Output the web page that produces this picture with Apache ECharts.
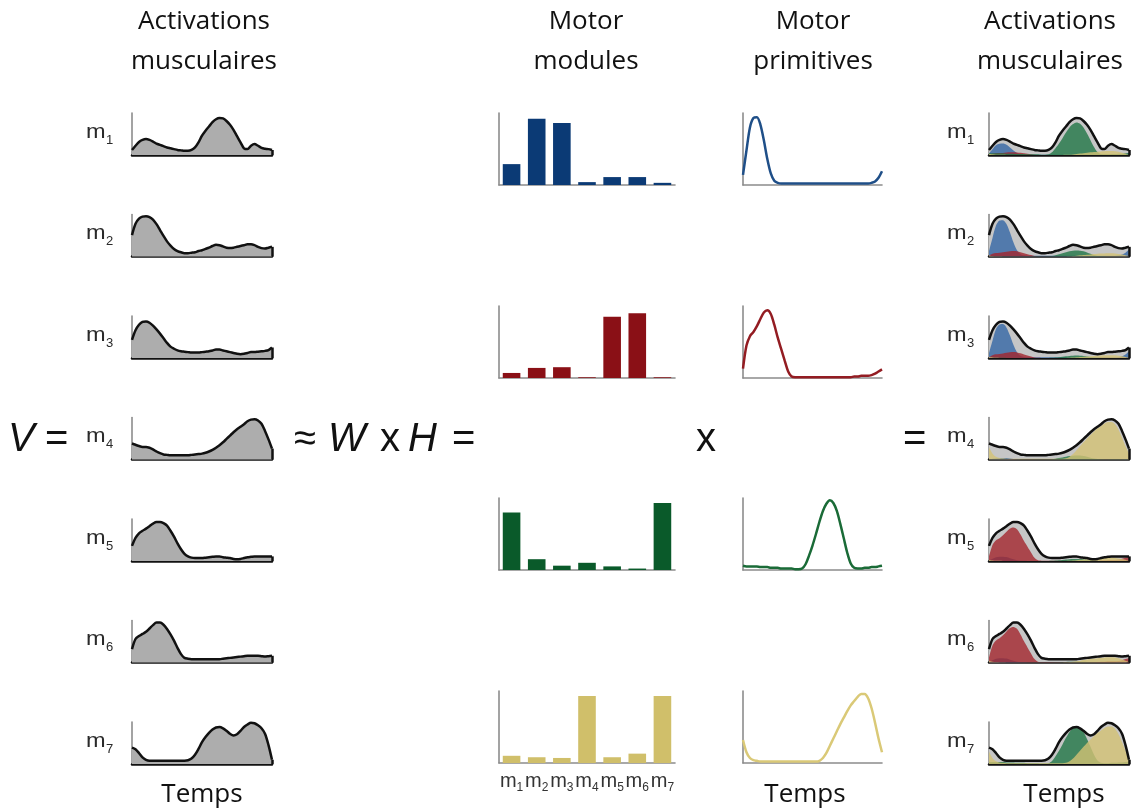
<!DOCTYPE html>
<html>
<head>
<meta charset="utf-8">
<script src="https://cdn.jsdelivr.net/npm/echarts@6/dist/echarts.min.js"></script>
<style>html,body{margin:0;padding:0;background:#fff}#c{width:1131px;height:809px}</style>
</head>
<body>
<div id="c"></div>
<script>
// ---------- DATA ----------
const TIME = [0,2.5,5,7.5,10,12.5,15,17.5,20,22.5,25,27.5,30,32.5,35,37.5,40,42.5,45,47.5,50,
              52.5,55,57.5,60,62.5,65,67.5,70,72.5,75,77.5,80,82.5,85,87.5,90,92.5,95,97.5,100];
const MUSCLES = ['m1','m2','m3','m4','m5','m6','m7'];
// muscle activations (V), normalised
const V1 = [0.12,0.22,0.31,0.36,0.38,0.36,0.32,0.27,0.24,0.21,0.18,0.16,0.14,0.12,0.11,0.10,0.10,0.12,0.18,0.30,0.46,
            0.58,0.68,0.78,0.85,0.88,0.87,0.81,0.72,0.60,0.45,0.30,0.16,0.14,0.22,0.26,0.22,0.17,0.15,0.14,0.12];
const V2 = [0.51,0.78,0.90,0.95,0.96,0.94,0.88,0.77,0.63,0.49,0.36,0.26,0.18,0.13,0.10,0.08,0.08,0.09,0.10,0.13,0.15,
            0.18,0.21,0.25,0.28,0.27,0.24,0.21,0.20,0.21,0.23,0.25,0.27,0.29,0.29,0.27,0.23,0.20,0.19,0.21,0.23];
const V3 = [0.43,0.66,0.79,0.86,0.87,0.84,0.77,0.68,0.58,0.47,0.36,0.27,0.22,0.18,0.16,0.15,0.14,0.13,0.13,0.13,0.14,
            0.15,0.16,0.18,0.20,0.20,0.18,0.16,0.14,0.12,0.10,0.09,0.10,0.12,0.14,0.14,0.15,0.16,0.17,0.19,0.25];
const V4 = [0.38,0.35,0.32,0.30,0.30,0.28,0.24,0.19,0.15,0.12,0.11,0.10,0.10,0.10,0.10,0.10,0.10,0.11,0.12,0.13,0.14,
            0.16,0.19,0.23,0.28,0.34,0.41,0.49,0.57,0.65,0.72,0.78,0.84,0.91,0.95,0.96,0.93,0.85,0.68,0.48,0.26];
const V5 = [0.36,0.55,0.66,0.72,0.77,0.83,0.89,0.93,0.93,0.90,0.84,0.72,0.58,0.42,0.28,0.17,0.11,0.08,0.07,0.07,0.07,
            0.08,0.09,0.10,0.11,0.11,0.09,0.08,0.07,0.05,0.04,0.05,0.07,0.09,0.10,0.11,0.11,0.11,0.11,0.11,0.11];
const V6 = [0.32,0.56,0.63,0.68,0.73,0.81,0.89,0.95,0.95,0.90,0.80,0.67,0.52,0.35,0.20,0.11,0.09,0.08,0.08,0.08,0.08,
            0.08,0.08,0.08,0.08,0.08,0.09,0.10,0.11,0.12,0.13,0.14,0.15,0.16,0.16,0.16,0.16,0.15,0.14,0.15,0.16];
const V7 = [0.39,0.35,0.26,0.16,0.10,0.08,0.08,0.08,0.08,0.08,0.08,0.08,0.08,0.08,0.08,0.08,0.09,0.13,0.22,0.36,0.52,
            0.64,0.74,0.82,0.87,0.88,0.85,0.79,0.72,0.68,0.71,0.79,0.88,0.94,0.98,0.97,0.92,0.85,0.72,0.45,0.10];
// motor modules (W), weight of each muscle m1..m7
const W_BLUE   = [0.29,0.92,0.86,0.04,0.11,0.11,0.03];
const W_RED    = [0.07,0.14,0.15,0.01,0.85,0.90,0.01];
const W_GREEN  = [0.80,0.15,0.06,0.10,0.05,0.02,0.93];
const W_YELLOW = [0.10,0.08,0.07,0.93,0.08,0.13,0.93];
// motor primitives (H)
const H_BLUE   = [0.14,0.48,0.80,0.93,0.94,0.84,0.62,0.36,0.16,0.06,0.03,0.02,0.02,0.02,0.02,0.02,0.02,0.02,0.02,0.02,0.02,
                  0.02,0.02,0.02,0.02,0.02,0.02,0.02,0.02,0.02,0.02,0.02,0.02,0.02,0.02,0.02,0.02,0.03,0.05,0.10,0.19];
const H_RED    = [0.13,0.45,0.58,0.64,0.72,0.82,0.91,0.94,0.89,0.74,0.56,0.40,0.24,0.09,0.02,0.01,0.01,0.01,0.01,0.01,0.01,
                  0.01,0.01,0.01,0.01,0.01,0.01,0.01,0.01,0.01,0.01,0.01,0.02,0.02,0.03,0.03,0.03,0.04,0.06,0.09,0.12];
const H_GREEN  = [0.06,0.05,0.05,0.05,0.05,0.04,0.04,0.04,0.03,0.03,0.03,0.02,0.02,0.02,0.02,0.01,0.01,0.02,0.08,0.20,0.34,
                  0.50,0.67,0.82,0.92,0.97,0.93,0.82,0.64,0.44,0.24,0.09,0.03,0.02,0.02,0.03,0.03,0.04,0.04,0.05,0.06];
const H_YELLOW = [0.32,0.15,0.07,0.04,0.03,0.02,0.02,0.02,0.02,0.02,0.02,0.02,0.02,0.02,0.02,0.02,0.02,0.02,0.02,0.02,0.02,
                  0.02,0.03,0.07,0.14,0.24,0.34,0.44,0.54,0.63,0.72,0.80,0.86,0.92,0.96,0.96,0.90,0.76,0.56,0.34,0.15];

// ---------- LAYOUT / STYLE ----------
const V_ALL = [V1,V2,V3,V4,V5,V6,V7];
const MODS = [
  {w:W_BLUE,   h:H_BLUE,   bar:'#0b3a75', line:'#1f4f88', fill:'#3467a5'},
  {w:W_RED,    h:H_RED,    bar:'#8a1016', line:'#931c22', fill:'#a3262d'},
  {w:W_GREEN,  h:H_GREEN,  bar:'#0a5a2a', line:'#1a6b37', fill:'#217646'},
  {w:W_YELLOW, h:H_YELLOW, bar:'#d0bf6a', line:'#dac977', fill:'#d3c274'}
];
const ROW_BASE = [155,256.5,358,459.5,561,662.5,764];
const ROW_H = 42;
const MOD_BASE = [185,378,570,763];
const MOD_H = 72;
const LEFT_X = 132, RIGHT_X = 989, PLOT_W = 140;
const BAR_X = 499, BAR_W = 176, PRIM_X = 743, PRIM_W = 139;
const SMOOTH = 0.3;

const grid = [], xAxis = [], yAxis = [], series = [], graphic = [];
const grayAxis = {show:true, lineStyle:{color:'#8c8c8c', width:1.6}};
const blackAxis = {show:true, lineStyle:{color:'#111', width:2.5}};
function addGrid(left, top, width, height) {
  grid.push({left, top, width, height});
  return grid.length - 1;
}
function valueX(gi, axisLine) {
  xAxis.push({type:'value', gridIndex:gi, min:0, max:100, axisLine, axisTick:{show:false}, axisLabel:{show:false}, splitLine:{show:false}});
}
function valueY(gi) {
  yAxis.push({type:'value', gridIndex:gi, min:0, max:1, axisLine:grayAxis, axisTick:{show:false}, axisLabel:{show:false}, splitLine:{show:false}});
}
function pts(arr){ return TIME.map((t,j)=>[t, arr[j]]); }
function edgeMark(arr){
  return {silent:true, symbol:'none', label:{show:false}, animation:false,
    lineStyle:{color:'#111', width:2.5, type:'solid'},
    data:[[{coord:[100,0]},{coord:[100,arr[arr.length-1]]}]]};
}

// left column: original activations
V_ALL.forEach((v,i)=>{
  const gi = addGrid(LEFT_X, ROW_BASE[i]-ROW_H, PLOT_W, ROW_H);
  valueX(gi, blackAxis); valueY(gi);
  series.push({type:'line', xAxisIndex:gi, yAxisIndex:gi, data:pts(v), smooth:SMOOTH, symbol:'none',
    lineStyle:{color:'#111', width:2.5}, areaStyle:{color:'#adadad', opacity:1}, markLine:edgeMark(v), z:3});
});
// right column: reconstructions
V_ALL.forEach((v,i)=>{
  const gi = addGrid(RIGHT_X, ROW_BASE[i]-ROW_H, PLOT_W, ROW_H);
  valueX(gi, blackAxis); valueY(gi);
  series.push({type:'line', xAxisIndex:gi, yAxisIndex:gi, data:pts(v), smooth:SMOOTH, symbol:'none',
    lineStyle:{width:0}, areaStyle:{color:'#c6c6c6', opacity:1}, z:2});
  MODS.forEach(m=>{
    const c = m.h.map(hv => m.w[i]*hv);
    series.push({type:'line', xAxisIndex:gi, yAxisIndex:gi, data:pts(c), smooth:SMOOTH, symbol:'none',
      lineStyle:{width:0}, areaStyle:{color:m.fill, opacity:0.8}, z:2});
  });
  series.push({type:'line', xAxisIndex:gi, yAxisIndex:gi, data:pts(v), smooth:SMOOTH, symbol:'none',
    lineStyle:{color:'#111', width:2.5}, markLine:edgeMark(v), z:4});
});
// motor modules (bars) and primitives
MODS.forEach((m,k)=>{
  const gb = addGrid(BAR_X, MOD_BASE[k]-MOD_H, BAR_W, MOD_H);
  const last = k === MODS.length-1;
  xAxis.push({type:'category', gridIndex:gb, data:MUSCLES, axisLine:grayAxis, axisTick:{show:false},
    axisLabel:{show:last, interval:0, margin:6,
      formatter: s => '{m|m}{s|' + s.slice(1) + '}',
      rich:{m:{fontSize:20, fontFamily:'Liberation Sans', color:'#333', lineHeight:22, verticalAlign:'bottom'},
            s:{fontSize:12, fontFamily:'Liberation Sans', color:'#333', lineHeight:12, verticalAlign:'bottom', padding:[0,0,-3,0]}}},
    splitLine:{show:false}});
  valueY(gb);
  series.push({type:'bar', xAxisIndex:gb, yAxisIndex:gb, data:m.w, barCategoryGap:'30%', itemStyle:{color:m.bar}});

  const gp = addGrid(PRIM_X, MOD_BASE[k]-MOD_H, PRIM_W, MOD_H);
  valueX(gp, grayAxis); valueY(gp);
  series.push({type:'line', xAxisIndex:gp, yAxisIndex:gp, data:pts(m.h), smooth:SMOOTH, symbol:'none',
    lineStyle:{color:m.line, width:2.5}});
});

// ---------- TEXT ----------
const HEAD = '26px "Open Sans"';
function txt(x,y,text,font,align,fill,scaleX){
  const el = {type:'text', x, y, silent:true,
    style:{text, font, fill:fill||'#111', textAlign:align||'center', textVerticalAlign:'middle'}};
  if (scaleX) el.scaleX = scaleX;
  graphic.push(el);
}
[[204,'Activations','musculaires'],[586,'Motor','modules'],[813,'Motor','primitives'],[1050,'Activations','musculaires']]
  .forEach(h=>{ txt(h[0],22,h[1],HEAD); txt(h[0],62,h[2],HEAD); });
[[202,'Temps'],[805,'Temps'],[1064,'Temps']].forEach(h=>txt(h[0],795,h[1],HEAD));
MUSCLES.forEach((mm,i)=>{
  [86, 947].forEach(x0=>{
    txt(x0, ROW_BASE[i]-23, 'm', '21px "Liberation Sans"', 'left', '#2a2a2a', 1.12);
    txt(x0+20, ROW_BASE[i]-15, mm.slice(1), '13px "Liberation Sans"', 'left', '#2a2a2a');
  });
});
const EQ = '40px "Liberation Sans"', EQI = 'italic 40px "Liberation Sans"';
txt(8,440,'V',EQI,'left'); txt(45,440,'=',EQ,'left');
txt(294,440,'≈',EQ,'left'); txt(328,440,'W',EQI,'left'); txt(380,440,'x',EQ,'left');
txt(408,440,'H',EQI,'left'); txt(452,440,'=',EQ,'left');
txt(696,440,'x',EQ,'left'); txt(903,440,'=',EQ,'left');

const chart = echarts.init(document.getElementById('c'), null, {renderer:'canvas'});
chart.setOption({animation:false, backgroundColor:'#fff', grid, xAxis, yAxis, series, graphic});
</script>
</body>
</html>
